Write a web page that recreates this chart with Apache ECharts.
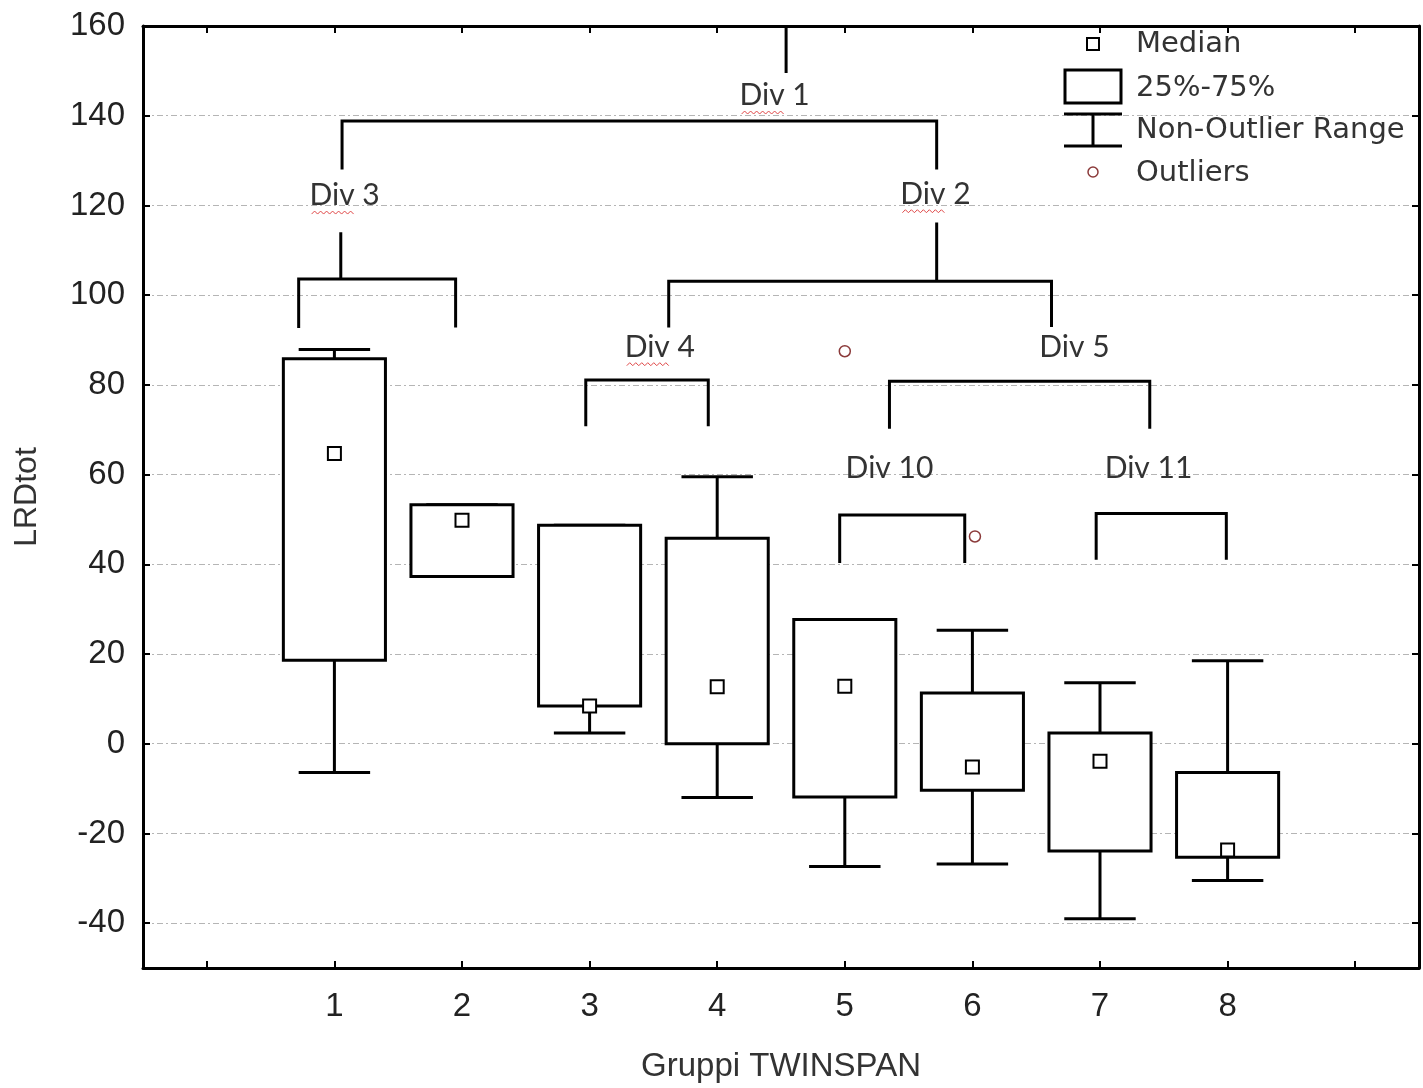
<!DOCTYPE html>
<html>
<head>
<meta charset="utf-8">
<title>LRDtot - Gruppi TWINSPAN</title>
<script src="https://cdn.jsdelivr.net/npm/echarts@6/dist/echarts.min.js"></script>
<style>
  html, body { margin: 0; padding: 0; background: #fff; }
  #chart { width: 1423px; height: 1088px; }
</style>
</head>
<body>
<div id="chart"></div>
<script>
// box plot values, one entry per TWINSPAN group
const groups = [1, 2, 3, 4, 5, 6, 7, 8];
const whiskerLow = [-6.4, 37.3, 2.4, -12.0, -27.4, -26.8, -39.0, -30.5];
const q1 = [18.6, 37.3, 8.4, 0.0, -11.9, -10.4, -23.9, -25.3];
const median = [64.7, 49.8, 8.4, 12.7, 12.8, -5.2, -3.9, -23.7];
const q3 = [85.8, 53.3, 48.7, 45.8, 27.7, 11.3, 2.4, -6.4];
const whiskerHigh = [87.9, 53.3, 48.7, 59.5, 27.7, 25.3, 13.6, 18.5];

const outlierGroup = [5, 6.02];
const outlierValue = [87.5, 46.2];

// axis ticks
const xTicks = [0, 1, 2, 3, 4, 5, 6, 7, 8, 9];
const yTicks = [-40, -20, 0, 20, 40, 60, 80, 100, 120, 140, 160];

// TWINSPAN division tree, drawn in data units
const divStems = [
  [[4.54, 160], [4.54, 149.5]],
  [[1.05, 114.0], [1.05, 103.6]],
  [[5.72, 116.2], [5.72, 103.1]]
];
const divBrackets = [
  [[1.06, 128.0], [1.06, 138.8], [5.72, 138.8], [5.72, 128.0]],
  [[0.72, 92.7], [0.72, 103.6], [1.95, 103.6], [1.95, 92.8]],
  [[3.62, 92.8], [3.62, 103.1], [6.62, 103.1], [6.62, 92.9]],
  [[2.97, 70.8], [2.97, 81.1], [3.93, 81.1], [3.93, 70.8]],
  [[5.35, 70.2], [5.35, 80.8], [7.39, 80.8], [7.39, 70.2]],
  [[4.96, 40.3], [4.96, 51.0], [5.94, 51.0], [5.94, 40.3]],
  [[6.97, 41.0], [6.97, 51.3], [7.99, 51.3], [7.99, 41.0]]
];
const divNames = ['Div 1', 'Div 3', 'Div 2', 'Div 4', 'Div 5', 'Div 10', 'Div 11'];
const divX = [4.45, 1.08, 5.71, 3.55, 6.80, 5.35, 7.38];
const divY = [144.5, 122.2, 122.5, 88.4, 88.4, 61.3, 61.3];
const divSpellMark = [true, true, true, true, false, false, false];

const BOX_WIDTH = 0.8;
const CAP_WIDTH = 0.56;

const chart = echarts.init(document.getElementById('chart'));

const boxData = groups.map((g, i) => [g, whiskerLow[i], q1[i], median[i], q3[i], whiskerHigh[i]]);
const outlierData = outlierGroup.map((g, i) => [g, outlierValue[i]]);
const divLineData = divStems.concat(divBrackets).map((c) => ({ coords: c }));
const divLabelData = divNames.map((n, i) => [divX[i], divY[i]]);

function renderBox(params, api) {
  const x = api.value(0);
  const pLow = api.coord([x, api.value(1)]);
  const pQ1 = api.coord([x, api.value(2)]);
  const pMed = api.coord([x, api.value(3)]);
  const pQ3 = api.coord([x, api.value(4)]);
  const pHigh = api.coord([x, api.value(5)]);
  const boxW = api.size([BOX_WIDTH, 0])[0];
  const capW = api.size([CAP_WIDTH, 0])[0];
  const cx = pMed[0];
  const line = { stroke: '#000', lineWidth: 3 };
  return {
    type: 'group',
    children: [
      { type: 'line', shape: { x1: cx, y1: pHigh[1], x2: cx, y2: pQ3[1] }, style: line },
      { type: 'line', shape: { x1: cx - capW / 2, y1: pHigh[1], x2: cx + capW / 2, y2: pHigh[1] }, style: line },
      { type: 'line', shape: { x1: cx, y1: pQ1[1], x2: cx, y2: pLow[1] }, style: line },
      { type: 'line', shape: { x1: cx - capW / 2, y1: pLow[1], x2: cx + capW / 2, y2: pLow[1] }, style: line },
      {
        type: 'rect',
        shape: { x: cx - boxW / 2, y: pQ3[1], width: boxW, height: pQ1[1] - pQ3[1] },
        style: { fill: '#fff', stroke: '#000', lineWidth: 3 }
      },
      {
        type: 'rect',
        shape: { x: cx - 6.5, y: pMed[1] - 6.5, width: 13, height: 13 },
        style: { fill: '#fff', stroke: '#000', lineWidth: 2 }
      }
    ]
  };
}

function renderDivLabel(params, api) {
  const p = api.coord([api.value(0), api.value(1)]);
  const children = [{
    type: 'text',
    x: p[0],
    y: p[1],
    style: {
      text: divNames[params.dataIndex],
      fontFamily: 'Lato',
      fontSize: 30,
      fill: '#333',
      align: 'center',
      verticalAlign: 'middle'
    }
  }];
  // red squiggle the word processor left under "Div"
  if (divSpellMark[params.dataIndex]) {
    const pts = [];
    const x0 = p[0] - 33;
    const y0 = p[1] + 17;
    for (let k = 0; k <= 14; k++) {
      pts.push([x0 + k * 3, y0 + (k % 2 ? -1.5 : 1.5)]);
    }
    children.push({
      type: 'polyline',
      shape: { points: pts },
      style: { stroke: '#e04848', lineWidth: 1, fill: null }
    });
  }
  return { type: 'group', children: children };
}

const tickFont = {
  fontFamily: 'Liberation Sans',
  fontSize: 33,
  color: '#222'
};
const axisLine = { show: true, onZero: false, lineStyle: { color: '#000', width: 3 } };
const tickStyle = { color: '#000', width: 2 };

const legendFont = {
  fontFamily: 'DejaVu Sans',
  fontSize: 29,
  fill: '#333',
  verticalAlign: 'middle'
};

const option = {
  animation: false,
  backgroundColor: '#fff',
  grid: { left: 143, top: 26, width: 1276, height: 945 },
  xAxis: [
    {
      type: 'value',
      position: 'bottom',
      min: -0.5,
      max: 9.5,
      axisLine: axisLine,
      axisTick: { show: true, inside: true, length: 7, lineStyle: tickStyle, customValues: xTicks },
      axisLabel: Object.assign({ customValues: groups, margin: 22 }, tickFont),
      splitLine: { show: false },
      name: 'Gruppi TWINSPAN',
      nameLocation: 'middle',
      nameGap: 82,
      nameTextStyle: { fontFamily: 'Liberation Sans', fontSize: 33, color: '#333' }
    },
    {
      type: 'value',
      position: 'top',
      min: -0.5,
      max: 9.5,
      axisLine: axisLine,
      axisTick: { show: true, inside: true, length: 7, lineStyle: tickStyle, customValues: xTicks },
      axisLabel: { show: false },
      splitLine: { show: false }
    }
  ],
  yAxis: [
    {
      type: 'value',
      position: 'left',
      min: -50,
      max: 160,
      axisLine: axisLine,
      axisTick: { show: true, inside: true, length: 7, lineStyle: tickStyle, customValues: yTicks },
      axisLabel: Object.assign({ customValues: yTicks, margin: 18 }, tickFont),
      splitLine: { show: true, lineStyle: { color: '#b5b5b5', width: 1, type: [6, 3, 2, 3] } },
      name: 'LRDtot',
      nameLocation: 'middle',
      nameRotate: 90,
      nameGap: 100,
      nameTextStyle: { fontFamily: 'Liberation Sans', fontSize: 32, color: '#333' }
    },
    {
      type: 'value',
      position: 'right',
      min: -50,
      max: 160,
      axisLine: axisLine,
      axisTick: { show: true, inside: true, length: 7, lineStyle: tickStyle, customValues: yTicks },
      axisLabel: { show: false },
      splitLine: { show: false }
    }
  ],
  series: [
    {
      name: 'boxes',
      type: 'custom',
      xAxisIndex: 0,
      yAxisIndex: 0,
      renderItem: renderBox,
      encode: { x: 0, y: [1, 2, 3, 4, 5] },
      data: boxData,
      z: 3
    },
    {
      name: 'Outliers',
      type: 'scatter',
      xAxisIndex: 0,
      yAxisIndex: 0,
      symbol: 'circle',
      symbolSize: 11,
      itemStyle: { color: '#fff', borderColor: '#8b3a3a', borderWidth: 1.5, opacity: 1 },
      data: outlierData,
      z: 4
    },
    {
      name: 'divisions',
      type: 'lines',
      coordinateSystem: 'cartesian2d',
      xAxisIndex: 0,
      yAxisIndex: 0,
      polyline: true,
      lineStyle: { color: '#000', width: 3, opacity: 1, join: 'miter' },
      data: divLineData,
      z: 2
    },
    {
      name: 'divLabels',
      type: 'custom',
      xAxisIndex: 0,
      yAxisIndex: 0,
      renderItem: renderDivLabel,
      data: divLabelData,
      z: 5
    }
  ],
  graphic: [
    // legend
    { type: 'rect', shape: { x: 1087, y: 38, width: 12, height: 12 }, style: { fill: '#fff', stroke: '#000', lineWidth: 2 }, z: 10 },
    { type: 'text', x: 1136, y: 44, style: Object.assign({ text: 'Median' }, legendFont), z: 10 },
    { type: 'rect', shape: { x: 1065, y: 70, width: 56, height: 33 }, style: { fill: '#fff', stroke: '#000', lineWidth: 3 }, z: 10 },
    { type: 'text', x: 1136, y: 88, style: Object.assign({ text: '25%-75%' }, legendFont), z: 10 },
    { type: 'line', shape: { x1: 1064, y1: 114, x2: 1122, y2: 114 }, style: { stroke: '#000', lineWidth: 3 }, z: 10 },
    { type: 'line', shape: { x1: 1093, y1: 114, x2: 1093, y2: 146 }, style: { stroke: '#000', lineWidth: 3 }, z: 10 },
    { type: 'line', shape: { x1: 1064, y1: 146, x2: 1122, y2: 146 }, style: { stroke: '#000', lineWidth: 3 }, z: 10 },
    { type: 'text', x: 1136, y: 130, style: Object.assign({ text: 'Non-Outlier Range' }, legendFont), z: 10 },
    { type: 'circle', shape: { cx: 1093, cy: 172, r: 5 }, style: { fill: '#fff', stroke: '#8b3a3a', lineWidth: 1.5 }, z: 10 },
    { type: 'text', x: 1136, y: 173, style: Object.assign({ text: 'Outliers' }, legendFont), z: 10 }
  ]
};

chart.setOption(option);

window.addEventListener('resize', () => chart.resize());
</script>
</body>
</html>
